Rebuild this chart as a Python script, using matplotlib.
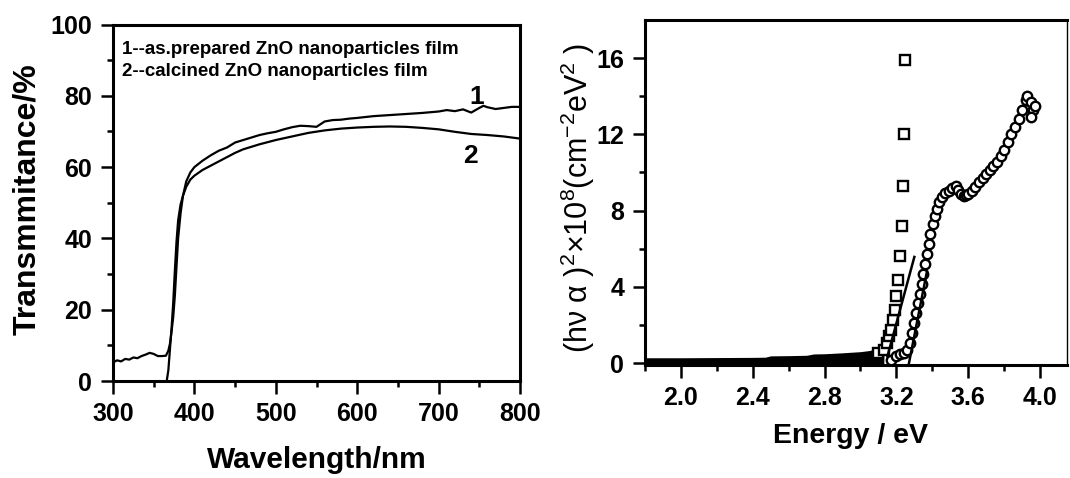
import matplotlib
matplotlib.use("Agg")
import matplotlib.pyplot as plt

plt.rcParams['font.family'] = ['Liberation Sans', 'DejaVu Sans']
plt.rcParams['mathtext.fontset'] = 'custom'
plt.rcParams['mathtext.rm'] = 'Liberation Sans'
plt.rcParams['mathtext.it'] = 'Liberation Sans:italic'

# ---- Transmittance spectra ----
wl_asprep = [300, 305, 310, 315, 320, 325, 330, 335, 340, 345, 350, 355, 360, 365, 368,
             370, 372, 374, 376, 378, 380, 383, 386, 390, 395, 400, 410, 420, 430, 440,
             450, 460, 470, 480, 490, 500, 510, 520, 530, 540, 550, 560, 570, 580, 590,
             600, 620, 640, 660, 680, 700, 710, 720, 730, 740, 750, 755, 760, 770, 780,
             790, 800]
t_asprep = [5.2, 5.8, 5.5, 6.2, 6.0, 6.6, 6.4, 7.0, 7.4, 7.9, 7.6, 7.0, 7.0, 7.1, 8.5,
            10.5, 14.0, 18.0, 24.0, 32.0, 40.0, 47.0, 52.0, 56.0, 58.5, 60.0, 61.8, 63.3, 64.6, 65.5,
            66.9, 67.6, 68.3, 69.0, 69.5, 69.9, 70.6, 71.2, 71.6, 71.5, 71.3, 72.8, 73.2, 73.3, 73.6,
            73.8, 74.3, 74.6, 74.9, 75.2, 75.6, 76.0, 75.7, 76.2, 75.3, 76.6, 77.2, 76.8, 76.3, 76.6,
            76.9, 76.9]

wl_calc = [366, 368, 370, 372, 374, 376, 378, 380, 383, 386, 390, 395, 400, 410, 420,
           430, 440, 450, 460, 470, 480, 490, 500, 520, 540, 560, 580, 600, 620, 640,
           660, 680, 700, 720, 740, 760, 780, 800]
t_calc = [0.0, 3.0, 9.0, 15.0, 22.0, 31.0, 39.0, 45.0, 49.5, 52.0, 54.5, 56.5, 57.6, 59.2, 60.4,
          61.6, 62.8, 64.0, 65.0, 65.7, 66.4, 67.0, 67.6, 68.6, 69.6, 70.3, 70.8, 71.1, 71.3, 71.4,
          71.3, 71.0, 70.6, 69.9, 69.3, 69.0, 68.6, 68.0]

legend_lines = ["1--as.prepared ZnO nanoparticles film",
                "2--calcined ZnO nanoparticles film"]

# ---- Tauc plot ----
e_sq = [3.10, 3.13, 3.15, 3.16, 3.17, 3.18, 3.19, 3.199, 3.208, 3.218, 3.23, 3.237, 3.242, 3.25]
a_sq = [0.55, 0.70, 1.04, 1.40, 1.74, 2.26, 2.80, 3.50, 4.35, 5.60, 7.20, 9.30, 12.0, 15.9]

e_ci = [3.17, 3.20, 3.22, 3.24, 3.26, 3.275, 3.288, 3.299, 3.311, 3.322, 3.331, 3.341, 3.350,
        3.360, 3.369, 3.379, 3.388, 3.402, 3.413, 3.426, 3.439, 3.455, 3.473, 3.492, 3.511,
        3.530, 3.545, 3.56, 3.575, 3.59, 3.60, 3.62, 3.64, 3.66, 3.68, 3.70, 3.72, 3.74, 3.76,
        3.78, 3.80, 3.82, 3.84, 3.86, 3.88, 3.90, 3.92, 3.93, 3.95, 3.96, 3.95, 3.97]
a_ci = [0.17, 0.35, 0.50, 0.55, 0.70, 1.04, 1.57, 2.09, 2.61, 3.13, 3.65, 4.17, 4.70,
        5.22, 5.74, 6.26, 6.78, 7.30, 7.74, 8.09, 8.43, 8.70, 8.90, 9.04, 9.20,
        9.30, 9.10, 8.85, 8.75, 8.80, 8.85, 9.05, 9.25, 9.50, 9.70, 9.90, 10.15, 10.35, 10.55,
        10.85, 11.20, 11.60, 12.00, 12.40, 12.80, 13.30, 13.80, 14.00, 13.70, 13.30, 12.90, 13.50]

# dense low-energy absorption tail (upper envelope)
e_tail = [1.80, 2.00, 2.20, 2.40, 2.47, 2.50, 2.60, 2.70, 2.74, 2.80, 2.90, 3.00, 3.05, 3.10, 3.13]
a_tail = [0.28, 0.28, 0.29, 0.30, 0.31, 0.38, 0.39, 0.41, 0.48, 0.49, 0.54, 0.60, 0.66, 0.78, 0.92]

# linear extrapolations to the energy axis
fit1_e = [3.15, 3.30]
fit1_a = [0.35, 5.57]
fit2_e = [3.27, 3.37]
fit2_a = [0.0, 4.80]

fig = plt.figure(figsize=(10.7, 4.78), dpi=100)
ax1 = fig.add_axes([0.1056, 0.2029, 0.3804, 0.7458])
ax2 = fig.add_axes([0.6028, 0.2364, 0.3944, 0.7218])

# left panel
ax1.plot(wl_asprep, t_asprep, color='black', lw=1.6)
ax1.plot(wl_calc, t_calc, color='black', lw=1.6)
ax1.set_xlim(300, 800)
ax1.set_ylim(0, 100)
ax1.set_xticks(range(300, 801, 100))
ax1.set_xticks(range(350, 800, 100), minor=True)
ax1.set_yticks(range(0, 101, 20))
ax1.set_yticks(range(10, 100, 20), minor=True)
for y, txt in zip([93.1, 86.7], legend_lines):
    ax1.text(311, y, txt, fontsize=13.5, fontweight='bold', ha='left', va='center')
ax1.text(747, 79.6, "1", fontsize=19, fontweight='bold', ha='center', va='center')
ax1.text(738.6, 63.2, "2", fontsize=19, fontweight='bold', ha='center', va='center')
ax1.set_xlabel("Wavelength/nm", fontsize=21.5, fontweight='bold')
ax1.set_ylabel("Transmmitance/%", fontsize=23, fontweight='bold')
ax1.xaxis.set_label_coords(0.501, -0.222)
ax1.xaxis.label.set_va('center')
ax1.yaxis.set_label_coords(-0.211, 0.51)
ax1.yaxis.label.set_va('center')

# right panel
ax2.fill_between(e_tail, -0.1, a_tail, color='black', lw=0)
ax2.plot(e_sq, a_sq, ls='none', marker='s', ms=7, mfc='white', mec='black', mew=1.7)
ax2.plot(e_ci, a_ci, ls='none', marker='o', ms=6.8, mfc='white', mec='black', mew=1.7)
ax2.plot(fit1_e, fit1_a, color='black', lw=1.8)
ax2.plot(fit2_e, fit2_a, color='black', lw=1.8)
ax2.set_xlim(1.8, 4.15)
ax2.set_ylim(-0.1, 18)
ax2.set_xticks([2.0, 2.4, 2.8, 3.2, 3.6, 4.0])
ax2.set_xticklabels(["2.0", "2.4", "2.8", "3.2", "3.6", "4.0"])
ax2.set_xticks([1.8, 2.2, 2.6, 3.0, 3.4, 3.8], minor=True)
ax2.set_yticks([0, 4, 8, 12, 16])
ax2.set_yticks([2, 6, 10, 14], minor=True)
ax2.set_xlabel("Energy / eV", fontsize=20.5, fontweight='bold')
ax2.set_ylabel("(hν α )$^{2}$×10$^{8}$(cm$^{-2}$eV$^{2}$ )", fontsize=22, fontweight='normal')
ax2.xaxis.set_label_coords(0.488, -0.206)
ax2.xaxis.label.set_va('center')
ax2.yaxis.set_label_coords(-0.159, 0.484)
ax2.yaxis.label.set_va('center')

for ax in (ax1, ax2):
    for side in ('left', 'bottom', 'top', 'right'):
        ax.spines[side].set_linewidth(2.2)
    ax.tick_params(which='major', direction='out', length=9, width=1.8, pad=6,
                   top=False, right=False)
    ax.tick_params(which='minor', direction='out', length=4.5, width=1.8,
                   top=False, right=False)
    for lab in ax.get_xticklabels() + ax.get_yticklabels():
        lab.set_fontsize(18)
        lab.set_fontweight('bold')
ax2.spines['right'].set_linewidth(1.0)

fig.savefig("out.png", dpi=100)
